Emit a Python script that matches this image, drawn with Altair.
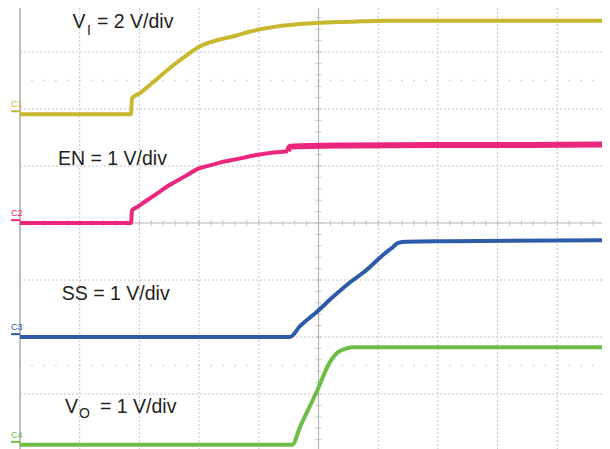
import altair as alt
import pandas as pd
import numpy as np

# Oscilloscope capture: time in screen divisions (0 = left edge),
# amplitude in screen divisions (0 = centre graticule line)
vi_t = [0.0, 1.86, 1.876, 2.01, 2.23, 2.51, 2.80, 2.98, 3.15, 3.35, 3.63, 3.86, 4.14, 4.69, 4.97, 5.53, 6.08, 7.20, 8.04, 9.9]
vi_v = [1.91, 1.91, 2.19, 2.28, 2.47, 2.72, 2.95, 3.08, 3.16, 3.22, 3.29, 3.36, 3.42, 3.49, 3.51, 3.53, 3.55, 3.55, 3.55, 3.55]

en_t = [0.0, 1.86, 1.876, 1.96, 2.23, 2.51, 2.80, 2.98, 3.18, 3.35, 3.63, 3.90, 4.19, 4.49]
en_v = [0.0, 0.0, 0.22, 0.28, 0.47, 0.67, 0.84, 0.95, 1.01, 1.06, 1.12, 1.18, 1.23, 1.26]
en_noisy_t = [4.49, 4.52, 5.5, 7.0, 8.5, 9.9]
en_noisy_v = [1.26, 1.34, 1.36, 1.37, 1.37, 1.38]

ss_t = [0.0, 4.52, 4.69, 4.97, 5.24, 5.53, 5.81, 6.08, 6.25, 6.33, 6.48, 7.20, 9.9]
ss_v = [-2.0, -2.0, -1.81, -1.56, -1.30, -1.04, -0.82, -0.56, -0.42, -0.35, -0.33, -0.32, -0.30]

vo_t = [0.0, 4.56, 4.69, 4.97, 5.19, 5.31, 5.44, 5.58, 9.9]
vo_v = [-3.89, -3.89, -3.58, -2.96, -2.44, -2.28, -2.21, -2.18, -2.18]

channels = ["C1", "C2", "C3", "C4"]
channel_level = [1.91, 0.0, -2.0, -3.89]
colors = ["#C8B830", "#EA267D", "#2E5BA8", "#6CBE45"]

grid_x = [1, 2, 3, 4, 6, 7, 8, 9]
grid_y = [-3, -2, -1, 1, 2, 3]

X_DOM = [0, 9.749]
Y_DOM = [-4.0, 3.772]
xs = alt.Scale(domain=X_DOM, nice=False, zero=False)
ys = alt.Scale(domain=Y_DOM, nice=False, zero=False)


def X(f):
    return alt.X(f, type="quantitative", scale=xs, axis=None)


def Y(f):
    return alt.Y(f, type="quantitative", scale=ys, axis=None)


traces = pd.concat([
    pd.DataFrame({"t": vi_t, "v": vi_v, "ch": "C1"}),
    pd.DataFrame({"t": en_t, "v": en_v, "ch": "C2"}),
    pd.DataFrame({"t": ss_t, "v": ss_v, "ch": "C3"}),
    pd.DataFrame({"t": vo_t, "v": vo_v, "ch": "C4"}),
])
color_scale = alt.Scale(domain=channels, range=colors)

GRID = "#c4c4c4"
dash = [2, 2]

vgrid = alt.Chart(pd.DataFrame({"x": grid_x})).mark_rule(
    color=GRID, strokeDash=dash, strokeWidth=1).encode(x=X("x"))
hgrid = alt.Chart(pd.DataFrame({"y": grid_y})).mark_rule(
    color=GRID, strokeDash=dash, strokeWidth=1).encode(y=Y("y"))
center_v = alt.Chart(pd.DataFrame({"x": [5]})).mark_rule(
    color="#b4b4b4", strokeWidth=1.2).encode(x=X("x"))
center_h = alt.Chart(pd.DataFrame({"y": [0]})).mark_rule(
    color="#b4b4b4", strokeWidth=1.2).encode(y=Y("y"))
left_edge = alt.Chart(pd.DataFrame({"x": [0]})).mark_rule(
    color="#a8a8a8", strokeWidth=1.5).encode(x=X("x"))

minor = np.round(np.arange(-20, 21) * 0.2, 2)
minor_x = np.round(np.arange(0, 49) * 0.2, 2)
vticks = alt.Chart(pd.DataFrame({"x": 5.0, "y": minor})).mark_tick(
    orient="horizontal", size=6, thickness=1, color="#b4b4b4").encode(x=X("x"), y=Y("y"))
hticks = alt.Chart(pd.DataFrame({"x": minor_x, "y": 0.0})).mark_tick(
    orient="vertical", size=6, thickness=1, color="#b4b4b4").encode(x=X("x"), y=Y("y"))
dots = alt.Chart(pd.DataFrame({
    "x": np.concatenate([minor_x, minor_x]),
    "y": [2.5] * len(minor_x) + [-2.5] * len(minor_x)})).mark_tick(
    orient="horizontal", size=2, thickness=1.5, color="#c8c8c8").encode(x=X("x"), y=Y("y"))

lines = alt.Chart(traces).mark_line(strokeWidth=4, interpolate="monotone", clip=True).encode(
    x=X("t"), y=Y("v"),
    color=alt.Color("ch:N", scale=color_scale, legend=None),
    detail="ch:N")
noisy = alt.Chart(pd.DataFrame({"t": en_noisy_t, "v": en_noisy_v})).mark_line(
    strokeWidth=6, color=colors[1], interpolate="monotone", clip=True).encode(x=X("t"), y=Y("v"))

# channel markers at left
marker_df = pd.DataFrame({"ch": channels, "lvl": channel_level,
                          "x0": -0.15, "x1": 0.0})
marker_df["ly"] = marker_df["lvl"] + 0.05
marker_df["ty"] = marker_df["lvl"] + 0.12
mk_lines = alt.Chart(marker_df).mark_rule(strokeWidth=2).encode(
    x=X("x0"), x2="x1", y=Y("ly"),
    color=alt.Color("ch:N", scale=color_scale, legend=None))
mk_text = alt.Chart(marker_df).mark_text(
    align="left", baseline="alphabetic", fontSize=9, font="Liberation Sans").encode(
    x=X("x0"), y=Y("ty"), text="ch:N",
    color=alt.Color("ch:N", scale=color_scale, legend=None))

FONT = "Liberation Sans"
TXT = "#231f20"
big = pd.DataFrame({
    "x": [0.879, 1.29, 0.637, 0.70, 0.754, 1.34],
    "y": [3.42, 3.42, 1.02, -1.35, -3.33, -3.33],
    "s": ["V", "= 2 V/div", "EN = 1 V/div", "SS = 1 V/div", "V", "= 1 V/div"]})
small = pd.DataFrame({"x": [1.122, 0.988], "y": [3.30, -3.42], "s": ["I", "O"]})
big_text = alt.Chart(big).mark_text(
    align="left", baseline="alphabetic", fontSize=19.5, font=FONT, color=TXT).encode(
    x=X("x"), y=Y("y"), text="s:N")
small_text = alt.Chart(small).mark_text(
    align="left", baseline="alphabetic", fontSize=14, font=FONT, color=TXT).encode(
    x=X("x"), y=Y("y"), text="s:N")

chart = alt.layer(
    vgrid, hgrid, dots, center_v, center_h, vticks, hticks, left_edge,
    lines, noisy, mk_lines, mk_text, big_text, small_text
).properties(
    width=582, height=443, autosize="none",
    padding={"left": 12, "top": 0, "right": 0, "bottom": 0},
    background="white"
).configure_view(stroke=None)

chart.save("out.html", embed_options={"renderer": "svg", "actions": False})
